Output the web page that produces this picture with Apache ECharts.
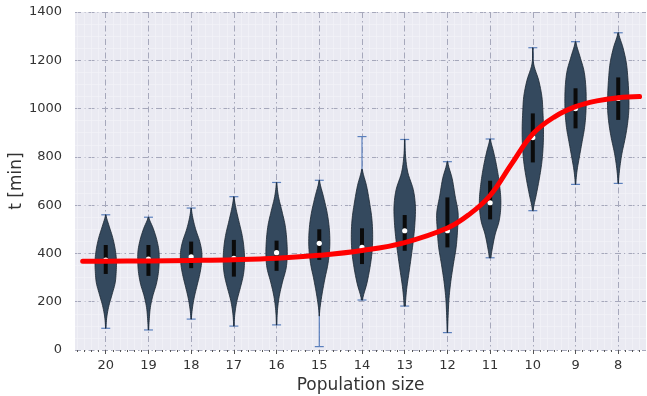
<!DOCTYPE html>
<html>
<head>
<meta charset="utf-8">
<script src="https://cdn.jsdelivr.net/npm/echarts@6/dist/echarts.min.js"></script>
<style>
  html, body { margin: 0; padding: 0; background: #fff; }
  #chart { width: 647px; height: 396px; }
</style>
</head>
<body>
<div id="chart"></div>
<script>
// population sizes, left to right
var categories = ['20', '19', '18', '17', '16', '15', '14', '13', '12', '11', '10', '9', '8'];
// whisker ends, quartiles and medians (t in minutes)
var mins    = [90, 83, 128, 99, 104, 14, 207, 182, 72, 382, 577, 686, 690];
var maxs    = [560, 550, 588, 635, 694, 703, 884, 872, 780, 874, 1252, 1277, 1314];
var q1s     = [315, 307, 339, 304, 328, 373, 356, 411, 425, 541, 777, 918, 953];
var q3s     = [435, 435, 449, 456, 453, 500, 504, 559, 632, 701, 980, 1084, 1129];
var medians = [372, 377, 386, 380, 403, 442, 425, 494, 494, 610, 880, 1000, 1042];
// relative density (0..1) at 11 evenly spaced levels from min to max
var profiles = [
  [0.02, 0.10, 0.30, 0.60, 0.88, 0.98, 1.00, 0.88, 0.65, 0.32, 0.02],
  [0.02, 0.08, 0.18, 0.40, 0.72, 0.92, 1.00, 0.98, 0.78, 0.45, 0.03],
  [0.02, 0.12, 0.30, 0.55, 0.80, 0.97, 1.00, 0.80, 0.45, 0.18, 0.02],
  [0.02, 0.10, 0.30, 0.62, 0.90, 1.00, 0.95, 0.78, 0.50, 0.22, 0.02],
  [0.02, 0.08, 0.25, 0.55, 0.90, 1.00, 0.95, 0.80, 0.50, 0.18, 0.02],
  [0.00, 0.00, 0.02, 0.22, 0.50, 0.82, 0.98, 0.95, 0.75, 0.40, 0.02],
  [0.05, 0.45, 0.75, 0.95, 1.00, 0.92, 0.70, 0.42, 0.03, 0.00, 0.00],
  [0.06, 0.18, 0.40, 0.62, 0.82, 0.96, 1.00, 0.80, 0.30, 0.08, 0.02],
  [0.02, 0.07, 0.15, 0.32, 0.56, 0.82, 0.95, 1.00, 0.72, 0.45, 0.03],
  [0.08, 0.25, 0.48, 0.82, 0.98, 1.00, 0.90, 0.75, 0.55, 0.30, 0.03],
  [0.03, 0.33, 0.62, 0.85, 0.97, 1.00, 0.95, 0.85, 0.55, 0.08, 0.02],
  [0.02, 0.15, 0.38, 0.62, 0.85, 0.97, 1.00, 0.95, 0.78, 0.40, 0.03],
  [0.02, 0.14, 0.35, 0.65, 0.88, 1.00, 0.98, 0.90, 0.76, 0.45, 0.03]
];
// red fitted curve: position on the axis (0 = "20") and t
var fitX = [-0.54, 0, 1, 2, 3, 4, 5, 6, 7, 8, 8.5, 9, 9.5, 10, 10.5, 11, 11.5, 12, 12.5];
var fitY = [368, 368, 369, 371, 374, 380, 392, 412, 445, 505, 560, 640, 770, 895, 965, 1008, 1032, 1045, 1050];
var yTicks = [0, 200, 400, 600, 800, 1000, 1200, 1400];

var chart = echarts.init(document.getElementById('chart'));

var catPos = categories.map(function (c, i) { return i; });
var minorPos = [];
for (var k = -4; k <= 76; k++) {
  if (k % 6 !== 0) minorPos.push(k / 6);
}
var violinData = categories.map(function (c, i) {
  return [i, mins[i], maxs[i], q1s[i], q3s[i], medians[i]];
});
var fitData = fitX.map(function (x, i) { return [x, fitY[i]]; });

var gridDash = [6, 3, 1.5, 3];
var halfWidth = 0.25;

// catmull-rom resampling of a density profile
function sampleProfile(prof, t) {
  var n = prof.length;
  var pos = t * (n - 1);
  var k = Math.min(Math.floor(pos), n - 2);
  var u = pos - k;
  var p0 = prof[Math.max(k - 1, 0)], p1 = prof[k], p2 = prof[k + 1], p3 = prof[Math.min(k + 2, n - 1)];
  var v = 0.5 * ((2 * p1) + (-p0 + p2) * u + (2 * p0 - 5 * p1 + 4 * p2 - p3) * u * u +
    (-p0 + 3 * p1 - 3 * p2 + p3) * u * u * u);
  return Math.max(v, 0);
}

function renderViolin(params, api) {
  var i = api.value(0), lo = api.value(1), hi = api.value(2);
  var q1 = api.value(3), q3 = api.value(4), med = api.value(5);
  var prof = profiles[params.dataIndex];
  var steps = 60;
  var left = [], right = [];
  for (var s = 0; s <= steps; s++) {
    var t = s / steps;
    var w = sampleProfile(prof, t);
    if (w <= 0.004) continue;
    var v = lo + (hi - lo) * t;
    left.push(api.coord([i - halfWidth * w, v]));
    right.unshift(api.coord([i + halfWidth * w, v]));
  }
  var pTop = api.coord([i, hi]), pBot = api.coord([i, lo]);
  var p1 = api.coord([i, q1]), p3 = api.coord([i, q3]), pm = api.coord([i, med]);
  var capW = 4.5;
  var whisk = { stroke: '#5b80bd', lineWidth: 1.2 };
  return {
    type: 'group',
    children: [
      { type: 'line', shape: { x1: pBot[0], y1: pBot[1], x2: pTop[0], y2: pTop[1] }, style: whisk },
      { type: 'line', shape: { x1: pTop[0] - capW, y1: pTop[1], x2: pTop[0] + capW, y2: pTop[1] }, style: whisk },
      { type: 'line', shape: { x1: pBot[0] - capW, y1: pBot[1], x2: pBot[0] + capW, y2: pBot[1] }, style: whisk },
      { type: 'polygon', shape: { points: left.concat(right) },
        style: { fill: '#34495e', stroke: '#1b2631', lineWidth: 0.8 } },
      { type: 'rect', shape: { x: p3[0] - 2, y: p3[1], width: 4, height: p1[1] - p3[1] },
        style: { fill: '#0b0b0b' } },
      { type: 'circle', shape: { cx: pm[0], cy: pm[1], r: 2.6 }, style: { fill: '#ffffff' } }
    ]
  };
}

var option = {
  backgroundColor: '#ffffff',
  textStyle: { fontFamily: 'DejaVu Sans' },
  grid: { left: 75, right: 1, top: 12, bottom: 46, outerBoundsMode: 'none',
    show: true, backgroundColor: '#eaeaf2', borderWidth: 0 },
  xAxis: [{
    type: 'value', position: 'bottom', min: -0.72, max: 12.65,
    name: 'Population size', nameLocation: 'middle', nameGap: 24,
    nameTextStyle: { fontSize: 17, color: '#333' },
    axisLine: { show: false },
    axisTick: { show: true, customValues: catPos, length: 4, lineStyle: { color: '#555', width: 1 } },
    axisLabel: { customValues: catPos, margin: 9, fontSize: 13, color: '#333',
      formatter: function (v) { return categories[Math.round(v)]; } },
    splitLine: { show: true, lineStyle: { color: '#a6a8bb', width: 1, type: gridDash } }
  }, {
    type: 'value', position: 'bottom', min: -0.72, max: 12.65,
    axisLine: { show: false },
    axisTick: { show: true, customValues: minorPos, length: 2, lineStyle: { color: '#555', width: 1 } },
    axisLabel: { show: false },
    splitLine: { show: true, lineStyle: { color: '#f4f4f8', width: 0.6 } }
  }],
  yAxis: {
    type: 'value', min: 0, max: 1400, interval: 200,
    name: 't [min]', nameLocation: 'middle', nameGap: 50, nameMoveOverlap: false,
    nameTextStyle: { fontSize: 17, color: '#333' },
    axisLine: { show: false }, axisTick: { show: false },
    axisLabel: { margin: 13, fontSize: 13, color: '#333',
      formatter: function (v) { return yTicks.indexOf(v) >= 0 ? String(v) : ''; } },
    splitLine: { show: true, lineStyle: { color: '#a6a8bb', width: 1, type: gridDash } },
    minorTick: { show: false, splitNumber: 4 },
    minorSplitLine: { show: true, lineStyle: { color: '#f4f4f8', width: 0.6 } }
  },
  series: [{
    type: 'custom', xAxisIndex: 0, renderItem: renderViolin, data: violinData, z: 3, silent: true
  }, {
    type: 'line', xAxisIndex: 0, data: fitData, smooth: 0.4, symbol: 'none', z: 5, silent: true,
    lineStyle: { color: '#ff0000', width: 5, cap: 'round' }
  }],
  animation: false
};
chart.setOption(option);
</script>
</body>
</html>
